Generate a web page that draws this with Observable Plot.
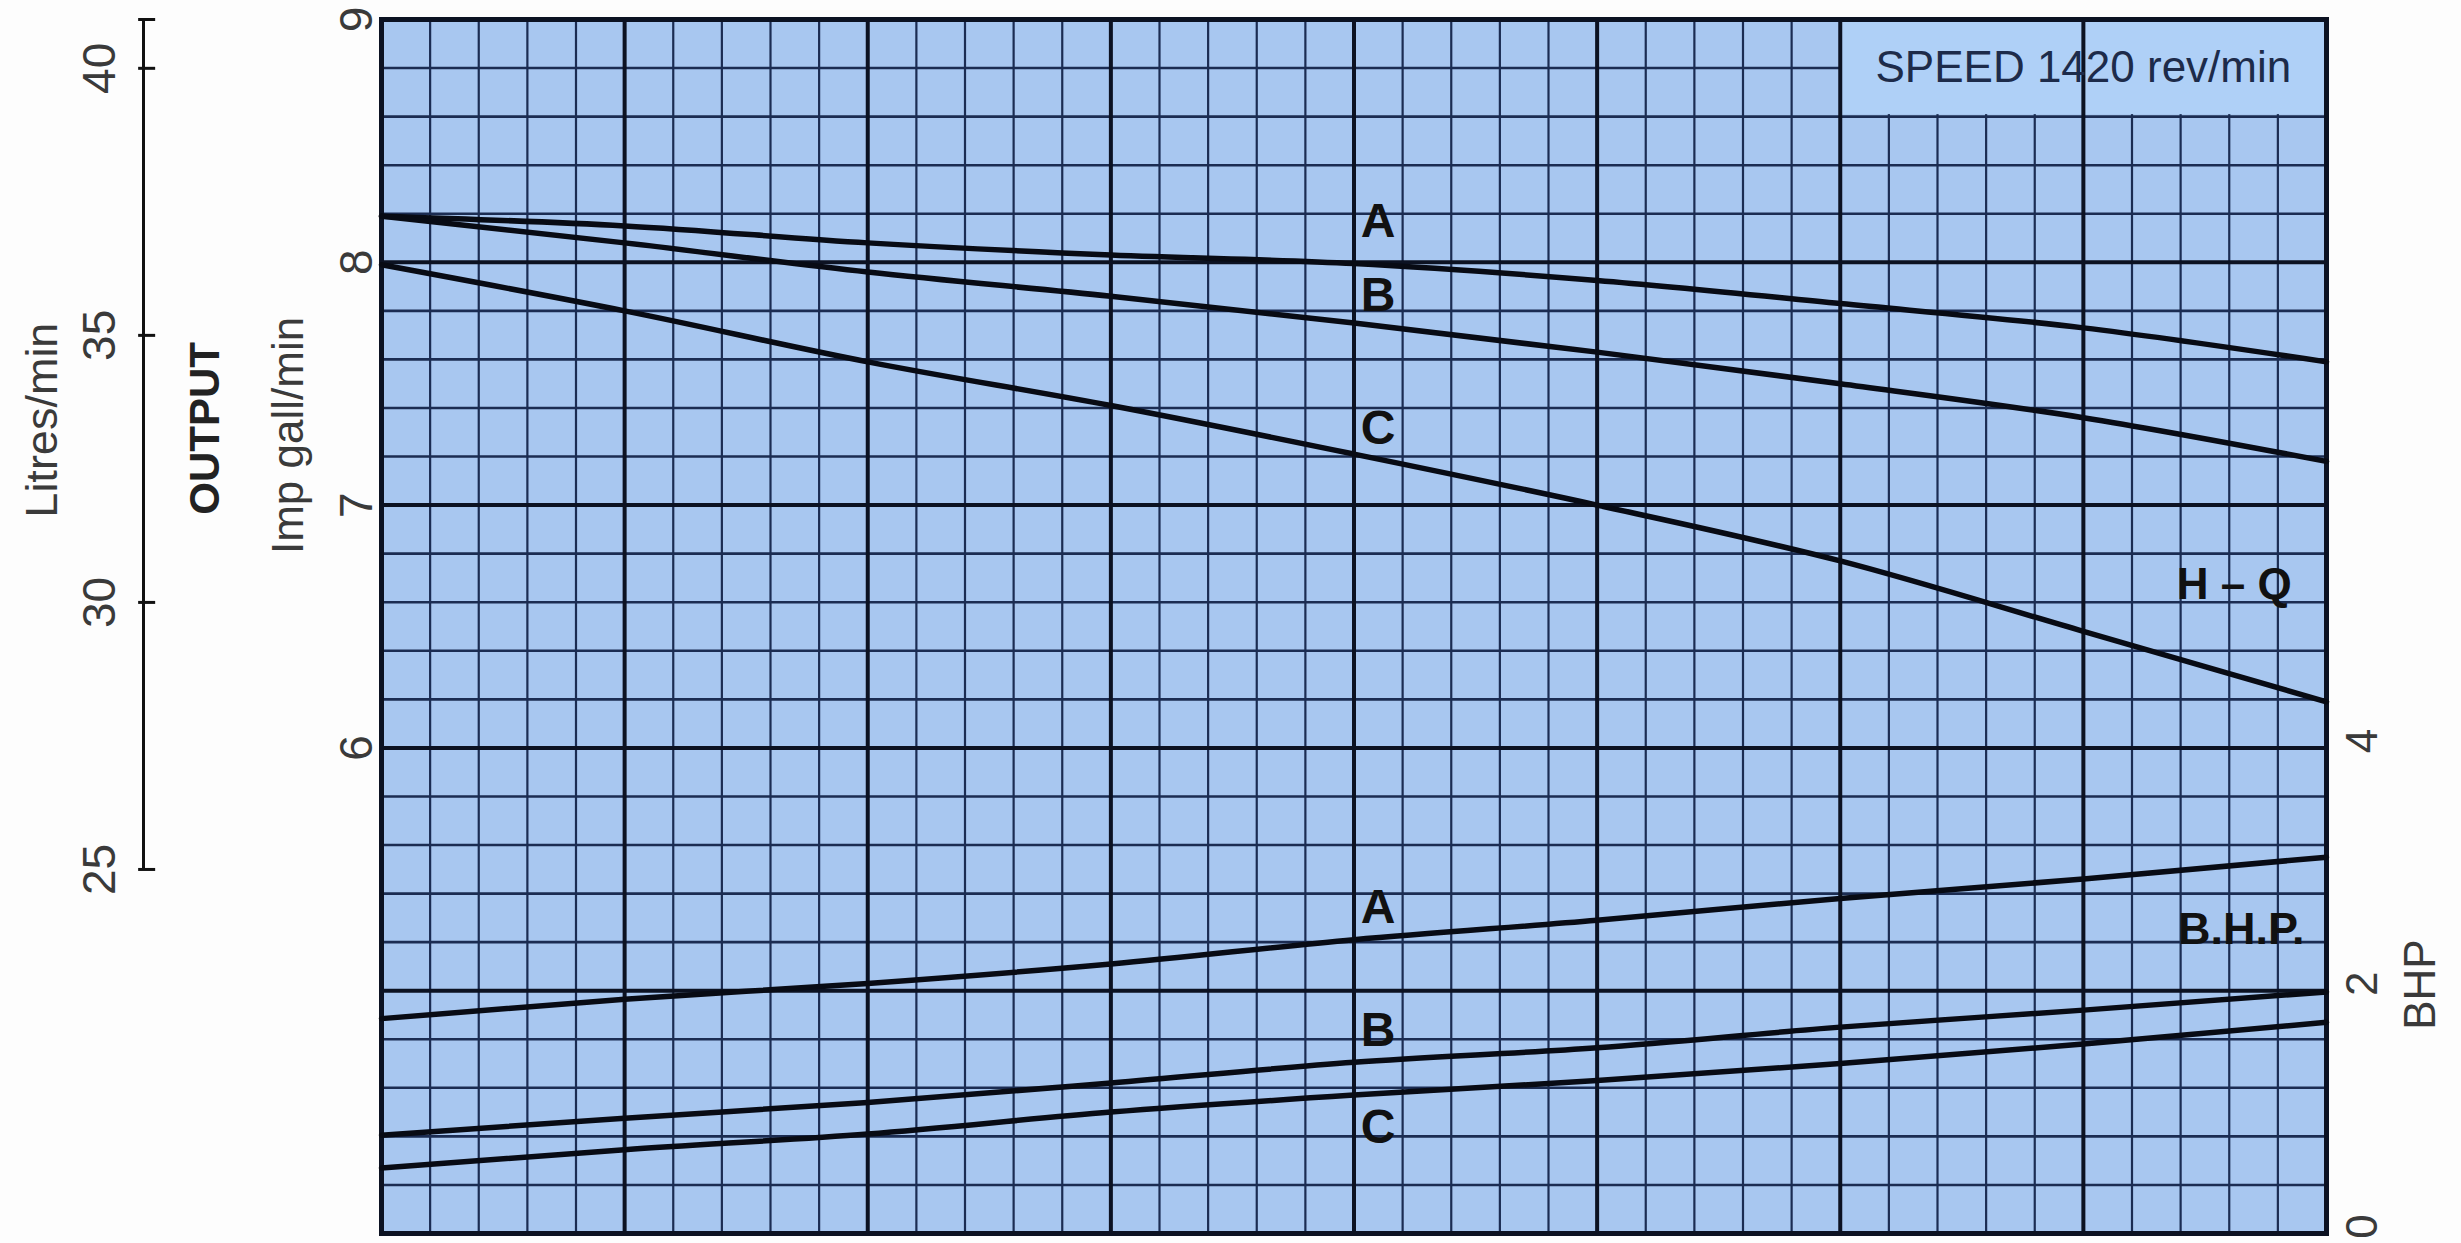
<!DOCTYPE html>
<html><head><meta charset="utf-8">
<script src="https://cdn.jsdelivr.net/npm/d3@7"></script>
<script src="https://cdn.jsdelivr.net/npm/@observablehq/plot@0.6"></script>
<style>
html,body{margin:0;padding:0;background:#fdfdfd;}
svg{display:block;}
</style></head><body><div id="chart"></div>
<script>
// horizontal position in minor grid divisions (chart has no x labels)
const positions = [0, 5, 10, 15, 20, 25, 30, 35, 40];
// H-Q curves, output in Imp gall/min
const hqA = [8.19, 8.15, 8.08, 8.03, 7.995, 7.925, 7.83, 7.73, 7.59];
const hqB = [8.19, 8.08, 7.96, 7.86, 7.75, 7.63, 7.50, 7.36, 7.18];
const hqC = [7.99, 7.80, 7.59, 7.41, 7.21, 7.00, 6.77, 6.48, 6.19];
// B.H.P. curves
const bhpA = [1.77, 1.93, 2.06, 2.22, 2.42, 2.58, 2.76, 2.92, 3.10];
const bhpB = [0.81, 0.95, 1.08, 1.24, 1.41, 1.53, 1.70, 1.84, 1.99];
const bhpC = [0.54, 0.69, 0.82, 1.00, 1.14, 1.26, 1.40, 1.56, 1.74];
// tick labels
const galTicks = [6, 7, 8, 9];
const litresTicks = [25, 30, 35, 40];
const bhpTicks = [0, 2, 4];
const LITRES_PER_GAL = 4.546;
const bhpToGal = b => 4 + b / 2;   // BHP axis: 0 at 4 gal, 2 BHP per gal

const hqRows = [["A", hqA], ["B", hqB], ["C", hqC]].flatMap(([s, v]) =>
  v.map((g, i) => ({series: s, x: positions[i], y: g})));
const bhpRows = [["A", bhpA], ["B", bhpB], ["C", bhpC]].flatMap(([s, v]) =>
  v.map((b, i) => ({series: s, x: positions[i], y: bhpToGal(b)})));

const minorCols = d3.range(1, 40).filter(c => c % 5 !== 0);
const majorCols = d3.range(5, 40, 5);
const minorRows = d3.range(1, 25).map(i => 4 + i * 0.2).filter(v => Math.abs(v - Math.round(v)) > 1e-6);
const majorRows = [5, 6, 7, 8];

const curveLabels = [
  {t: "A", x: 20, y: 8.168}, {t: "B", x: 20, y: 7.863}, {t: "C", x: 20, y: 7.315},
  {t: "A", x: 20, y: 5.343}, {t: "B", x: 20, y: 4.836}, {t: "C", x: 20, y: 4.437}
];

const ink = "#0c1222";
const minor = "#1b2c52";
const side = "#3a3a3a";
const font = "Liberation Sans, Arial, sans-serif";

const chart = Plot.plot({
  width: 2461, height: 1243,
  marginLeft: 381, marginRight: 135, marginTop: 19, marginBottom: 10,
  style: {fontFamily: font, background: "#fdfdfd"},
  x: {domain: [0, 40], axis: null},
  y: {domain: [4, 9], axis: null},
  marks: [
    Plot.frame({fill: "#a8c7f0", stroke: null}),
    Plot.ruleX(minorCols, {stroke: minor, strokeWidth: 2.2}),
    Plot.ruleY(minorRows, {stroke: minor, strokeWidth: 2.6}),
    Plot.rect([0], {x1: 30, x2: 40, y1: 8.6, y2: 9, fill: "#afd0f7", insetBottom: 2}),
    Plot.ruleX(majorCols, {stroke: ink, strokeWidth: 4}),
    Plot.ruleY(majorRows, {stroke: ink, strokeWidth: 4}),
    Plot.frame({stroke: ink, strokeWidth: 5}),
    Plot.line(hqRows, {x: "x", y: "y", z: "series", curve: "monotone-x", stroke: "#080b14", strokeWidth: 5.5}),
    Plot.line(bhpRows, {x: "x", y: "y", z: "series", curve: "monotone-x", stroke: "#080b14", strokeWidth: 5.5}),
    Plot.text(curveLabels, {x: "x", y: "y", text: "t", dx: 24, fontSize: 48, fontWeight: "bold", fill: "#111", textAnchor: "middle", lineAnchor: "middle"}),
    Plot.text(["H – Q"], {x: 38, y: 6.673, dx: 5, fontSize: 44, fontWeight: "bold", fill: "#111", textAnchor: "middle", lineAnchor: "middle"}),
    Plot.text(["B.H.P."], {x: 38, y: 5.252, dx: 12, fontSize: 45, fontWeight: "bold", fill: "#111", textAnchor: "middle", lineAnchor: "middle"}),
    Plot.text(["SPEED 1420 rev/min"], {x: 35, y: 8.8, fontSize: 44, fill: "#1d2b4a", textAnchor: "middle", lineAnchor: "middle"}),
    // left: Imp gall/min axis
    Plot.text(galTicks, {y: d => d, text: d => String(d), frameAnchor: "left", dx: -24, rotate: -90, fontSize: 46, fill: side, textAnchor: "middle", lineAnchor: "middle"}),
    Plot.text(["Imp gall/min"], {y: 7.287, frameAnchor: "left", dx: -93, rotate: -90, fontSize: 44, fill: side, textAnchor: "middle", lineAnchor: "middle"}),
    Plot.text(["OUTPUT"], {y: 7.316, frameAnchor: "left", dx: -176, rotate: -90, fontSize: 42, fontWeight: "bold", fill: "#222", textAnchor: "middle", lineAnchor: "middle"}),
    // left: Litres/min axis
    Plot.ruleX([0], {y1: litresTicks[0] / LITRES_PER_GAL, y2: 9, dx: -238, stroke: "#111", strokeWidth: 3}),
    Plot.ruleY([...litresTicks.map(l => l / LITRES_PER_GAL), 9], {x1: -0.1, x2: 0.25, dx: -238, stroke: "#111", strokeWidth: 3}),
    Plot.text(litresTicks, {y: l => l / LITRES_PER_GAL, text: l => String(l), frameAnchor: "left", dx: -281, rotate: -90, fontSize: 46, fill: side, textAnchor: "middle", lineAnchor: "middle"}),
    Plot.text(["Litres/min"], {y: 7.35, frameAnchor: "left", dx: -339, rotate: -90, fontSize: 45, fill: side, textAnchor: "middle", lineAnchor: "middle"}),
    // right: BHP axis
    Plot.text(bhpTicks, {y: b => bhpToGal(b), text: b => String(b), frameAnchor: "right", dx: 36, dy: -7, rotate: -90, fontSize: 44, fill: side, textAnchor: "middle", lineAnchor: "middle"}),
    Plot.text(["BHP"], {y: bhpToGal(2.05), frameAnchor: "right", dx: 94, rotate: -90, fontSize: 44, fill: side, textAnchor: "middle", lineAnchor: "middle"})
  ]
});
document.getElementById("chart").appendChild(chart);
</script>
</body></html>
